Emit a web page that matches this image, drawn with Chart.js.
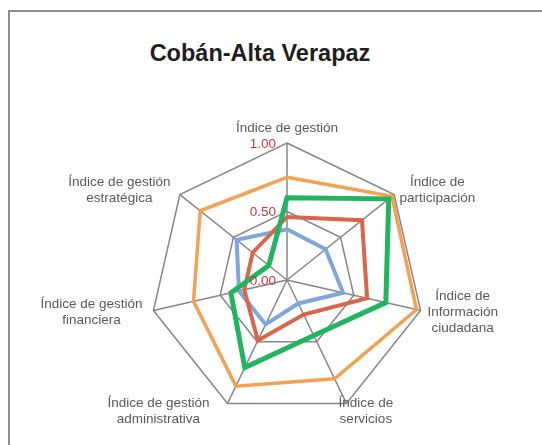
<!DOCTYPE html>
<html>
<head>
<meta charset="utf-8">
<script src="https://cdn.jsdelivr.net/npm/chart.js@4/dist/chart.umd.min.js"></script>
<style>
html,body{margin:0;padding:0;background:#fff;}
#wrap{position:relative;width:542px;height:445px;overflow:hidden;background:#fff;}
#frame{position:absolute;left:8px;top:10px;width:600px;height:500px;border:2px solid #8f8f8f;box-sizing:border-box;}
#title{position:absolute;left:0;width:520px;top:40px;line-height:26px;text-align:center;font:bold 23.5px "Liberation Sans",Arial,sans-serif;color:#1e1e1e;}
canvas{position:absolute;left:0;top:0;}
</style>
</head>
<body>
<div id="wrap">
  <div id="frame"></div>
  <div id="title">Cobán-Alta Verapaz</div>
  <canvas id="c" width="542" height="445"></canvas>
</div>
<script>
// Categories (axes), clockwise from the top
const categories = [
  ["Índice de gestión"],
  ["Índice de", "participación"],
  ["Índice de", "Información", "ciudadana"],
  ["Índice de", "servicios"],
  ["Índice de gestión", "administrativa"],
  ["Índice de gestión", "financiera"],
  ["Índice de gestión", "estratégica"]
];
// Series values
const serieAzul    = [0.37, 0.36, 0.42, 0.19, 0.36, 0.36, 0.47];
const serieRoja    = [0.46, 0.70, 0.60, 0.28, 0.49, 0.32, 0.32];
const serieNaranja = [0.75, 0.98, 0.97, 0.80, 0.86, 0.70, 0.81];
const serieVerde   = [0.60, 0.95, 0.74, 0.45, 0.71, 0.42, 0.17];
// Radial tick values
const tickValues = [0, 0.5, 1];

const labelFont = '13.5px "Liberation Sans", Arial, sans-serif';

const labelPlugin = {
  id: 'excelLabels',
  afterDraw(chart) {
    const s = chart.scales.r;
    const ctx = chart.ctx;
    ctx.save();
    // tick labels, right aligned left of the vertical axis
    ctx.font = labelFont;
    ctx.fillStyle = '#c8373d';
    ctx.textAlign = 'right';
    ctx.textBaseline = 'middle';
    s.ticks.forEach(t => {
      const d = s.getDistanceFromCenterForValue(t.value);
      ctx.fillText(t.value.toFixed(2), s.xCenter - 11, s.yCenter - d + 1);
    });
    // point labels, lines centred in their block
    ctx.fillStyle = '#595959';
    ctx.textAlign = 'center';
    const lh = 16;
    chart.data.labels.forEach((lines, i) => {
      const n = chart.data.labels.length;
      const ang = i * 2 * Math.PI / n;
      const sn = Math.sin(ang), cs = Math.cos(ang);
      const p = s.getPointPosition(i, s.drawingArea + 7);
      const w = Math.max(...lines.map(l => ctx.measureText(l).width));
      const h = lines.length * lh;
      let cx, cy;
      if (Math.abs(sn) < 0.05) cx = p.x;
      else if (sn > 0) cx = p.x + w / 2;
      else cx = p.x - w / 2 - 4;
      if (cs < -0.5) cx -= 11;
      if (cs > 0.95) cy = p.y - h / 2;
      else cy = p.y + (cs < -0.5 ? 2 : 0);
      lines.forEach((l, k) => {
        ctx.fillText(l, cx, cy - h / 2 + lh / 2 + k * lh);
      });
    });
    ctx.restore();
  }
};

const ds = (label, data, color, width, order) => ({
  label, data, borderColor: color, backgroundColor: color,
  borderWidth: width, fill: false, pointRadius: 0, pointHoverRadius: 0,
  tension: 0, borderJoinStyle: 'miter', order
});

new Chart(document.getElementById('c'), {
  type: 'radar',
  data: {
    labels: categories,
    datasets: [
      ds('Serie 1', serieAzul, '#7ea7da', 4, 4),
      ds('Serie 2', serieRoja, '#d9654b', 4, 3),
      ds('Serie 3', serieNaranja, '#f2a254', 3.5, 2),
      ds('Serie 4', serieVerde, '#23b45f', 5, 1)
    ]
  },
  options: {
    responsive: false,
    devicePixelRatio: 1,
    animation: false,
    layout: { padding: { top: 143, bottom: 28, left: 100, right: 68 } },
    plugins: { legend: { display: false }, title: { display: false }, tooltip: { enabled: false } },
    scales: {
      r: {
        min: 0, max: 1,
        afterBuildTicks(scale) { scale.ticks = tickValues.map(v => ({ value: v })); },
        ticks: { display: false, stepSize: 0.5 },
        grid: { color: '#878787', lineWidth: 1.5, circular: false },
        angleLines: { color: '#878787', lineWidth: 1.5 },
        pointLabels: { display: false }
      }
    }
  },
  plugins: [labelPlugin]
});
</script>
</body>
</html>
